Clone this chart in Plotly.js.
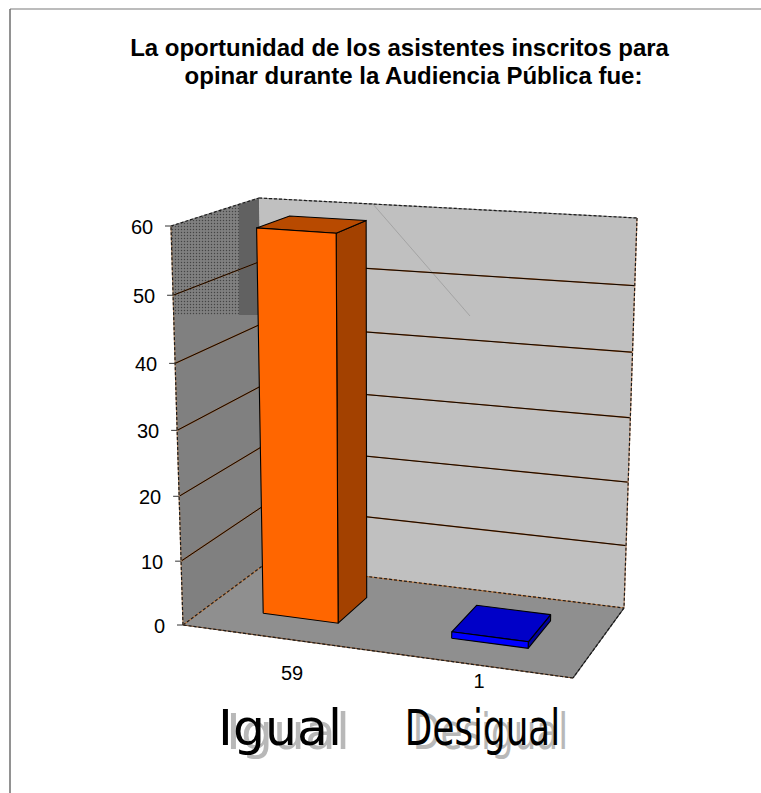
<!DOCTYPE html>
<html><head><meta charset="utf-8">
<script src="https://cdn.plot.ly/plotly-3.0.1.min.js"></script>
<style>html,body{margin:0;padding:0;background:#fff}#c{width:761px;height:793px}</style>
</head><body><div id="c"></div>
<script>
const categories = ['Igual', 'Desigual'];
const values = [59, 1];
const valueTicks = [0, 10, 20, 30, 40, 50, 60];
const chartTitle = 'La oportunidad de los asistentes inscritos para<br>opinar durante la Audiencia Pública fue:';

// oblique box of the 3D-look chart, on the pixel-scaled cartesian axes
const maxV = 60;
const floorC = {fl:[183,625], fr:[573,678], bl:[265,564], br:[624,608]};
const ceilC  = {fl:[171,226], fr:[587,255], bl:[259,198], br:[637,218]};
const bil = (c,s,d,i)=>c.fl[i]+s*(c.fr[i]-c.fl[i])+d*(c.bl[i]-c.fl[i])+s*d*(c.br[i]-c.bl[i]-c.fr[i]+c.fl[i]);
const warp = v=>{const q=v/maxV; return q/(1+0.05*(1-q));};
function P(s,v,d){const t=warp(v); return [0,1].map(i=>bil(floorC,s,d,i)+t*(bil(ceilC,s,d,i)-bil(floorC,s,d,i)));}

const traces=[];
function poly(pts,fill,line,extra){
  const t={x:pts.map(p=>p[0]).concat(pts[0][0]),y:pts.map(p=>p[1]).concat(pts[0][1]),mode:'lines',fill:'toself',fillcolor:fill,
    line:line||{width:0},hoverinfo:'skip',showlegend:false,type:'scatter'};
  traces.push(Object.assign(t,extra||{}));
}
function seg(a,b,color,width,dash){
  traces.push({x:[a[0],b[0]],y:[a[1],b[1]],mode:'lines',line:{color:color,width:width,dash:dash||'solid'},hoverinfo:'skip',showlegend:false,type:'scatter'});
}
function edge(a,b,base){ seg(a,b,base||'#a8815f',1.2); seg(a,b,'#1c1c1c',1.2,'3px,2px'); }

// walls and floor
poly([P(0,0,0),P(0,60,0),P(0,60,1),P(0,0,1)],'#808080');
poly([[171,226],[259,198],[261,315],[174,315]],'#7c7c7c',null,{fillpattern:{shape:'.',size:3,solidity:0.18,fgcolor:'#444444',bgcolor:'#808080'}});
poly([[239,204],[259,198],[261,315],[239,315]],'#606060',null,{fillpattern:{shape:'.',size:2,solidity:0.45,fgcolor:'#333333',bgcolor:'#808080'}});
poly([P(0,0,1),P(0,60,1),P(1,60,1),P(1,0,1)],'#c0c0c0');
poly([P(0,0,0),P(0,0,1),P(1,0,1),P(1,0,0)],'#8f8f8f');
seg([372,203],[470,316],'#9c9c9c',0.8);

// gridlines
valueTicks.filter(v=>v>0&&v<60).forEach(v=>{
  seg(P(0,v,0),P(0,v,1),'#a85a20',1.3); seg(P(0,v,0),P(0,v,1),'#0c0600',1);
  seg(P(0,v,1),P(1,v,1),'#a85a20',1.3); seg(P(0,v,1),P(1,v,1),'#0c0600',1);
});
// box outline
edge(P(0,0,0),P(0,60,0));
edge(P(0,60,0),P(0,60,1),'#8a8a8a');
edge(P(0,60,1),P(1,60,1),'#8a8a8a');
edge(P(1,60,1),P(1,0,1),'#c09070');
edge(P(0,0,1),P(1,0,1),'#c07a40');
edge(P(0,0,0),P(0,0,1),'#c07a40');
edge(P(1,0,1),P(1,0,0),'#333');
edge(P(1,0,0),P(0,0,0),'#7a5030');
// value-axis tick marks
valueTicks.forEach(v=>{const p=P(0,v,0); seg([p[0]-6,p[1]],p,'#333',1);});

// bars
const barCols=[{front:'#ff6600',side:'#a34100',top:'#b84a00'},{front:'#0000ff',side:'#00009c',top:'#0000c8'}];
const dep=[0.31,0.71];
values.forEach((val,i)=>{
  const c=0.2425+0.4975*i, h=0.0985+0.002*i, s0=c-h, s1=c+h, o={color:'#000',width:1.1}, col=barCols[i];
  poly([P(s1,0,dep[0]),P(s1,val,dep[0]),P(s1,val,dep[1]),P(s1,0,dep[1])],col.side,o);
  poly([P(s0,val,dep[0]),P(s0,val,dep[1]),P(s1,val,dep[1]),P(s1,val,dep[0])],col.top,o);
  poly([P(s0,0,dep[0]),P(s0,val,dep[0]),P(s1,val,dep[0]),P(s1,0,dep[0])],col.front,o);
});

// category WordArt labels (shadow + main) and data labels
const catX=[280,482.5], catY=[733,733];
const catSquash={'Igual':1.03,'Desigual':0.73};
const catFont='"DejaVu Sans"', catSize=49;
traces.push({x:catX.map(x=>x+8),y:catY.map(y=>y+4),text:categories,mode:'text',textposition:'middle center',
  textfont:{family:catFont,size:catSize,color:'#b8b8b8'},hoverinfo:'skip',showlegend:false,type:'scatter'});
traces.push({x:catX,y:catY,text:categories,mode:'text',textposition:'middle center',
  textfont:{family:catFont,size:catSize,color:'#000'},hoverinfo:'skip',showlegend:false,type:'scatter'});
const dataLabelY=[675,683], dataLabelX=[292,479];
traces.push({x:dataLabelX,y:dataLabelY,text:values.map(String),mode:'text',textposition:'middle center',
  textfont:{family:'"Liberation Sans"',size:20,color:'#000'},hoverinfo:'skip',showlegend:false,type:'scatter'});

const annotations=valueTicks.map(v=>{const p=P(0,v,0);return {x:p[0]-16,y:p[1]+1,xref:'x',yref:'y',text:String(v),showarrow:false,xanchor:'right',yanchor:'middle',font:{family:'"Liberation Sans"',size:20,color:'#000'}};});

const layout={
  width:761,height:793,margin:{l:0,r:0,t:0,b:0},paper_bgcolor:'#fff',plot_bgcolor:'#fff',showlegend:false,
  title:{text:chartTitle,x:0.525,xanchor:'center',y:0.93,yanchor:'top',font:{family:'"Liberation Sans"',size:24,color:'#000',weight:700}},
  xaxis:{range:[0,761],visible:false,fixedrange:true},
  yaxis:{range:[793,0],visible:false,fixedrange:true},
  annotations:annotations,
  shapes:[
    {type:'line',xref:'x',yref:'y',x0:10,x1:761,y0:9,y1:9,line:{color:'#a6a6a6',width:1.5}},
    {type:'line',xref:'x',yref:'y',x0:10,x1:10,y0:9,y1:793,line:{color:'#6e6e6e',width:1.5}}
  ]
};
Plotly.newPlot('c',traces,layout,{displayModeBar:false,staticPlot:true}).then(gd=>{
  // the reference squeezes each WordArt word into its own box
  gd.querySelectorAll('.textpoint text').forEach(t=>{
    const k=catSquash[t.textContent]; if(!k) return;
    const cx=+t.getAttribute('x');
    t.setAttribute('transform',`translate(${cx} 0) scale(${k} 1) translate(${-cx} 0)`);
  });
  // second title line: tighter leading, sits a little right of centre
  const lines=gd.querySelectorAll('.gtitle tspan.line');
  if(lines.length>1){
    lines[1].setAttribute('dy','1.17em');
    lines[1].setAttribute('x',+lines[1].getAttribute('x')+14);
  }
});
</script></body></html>
